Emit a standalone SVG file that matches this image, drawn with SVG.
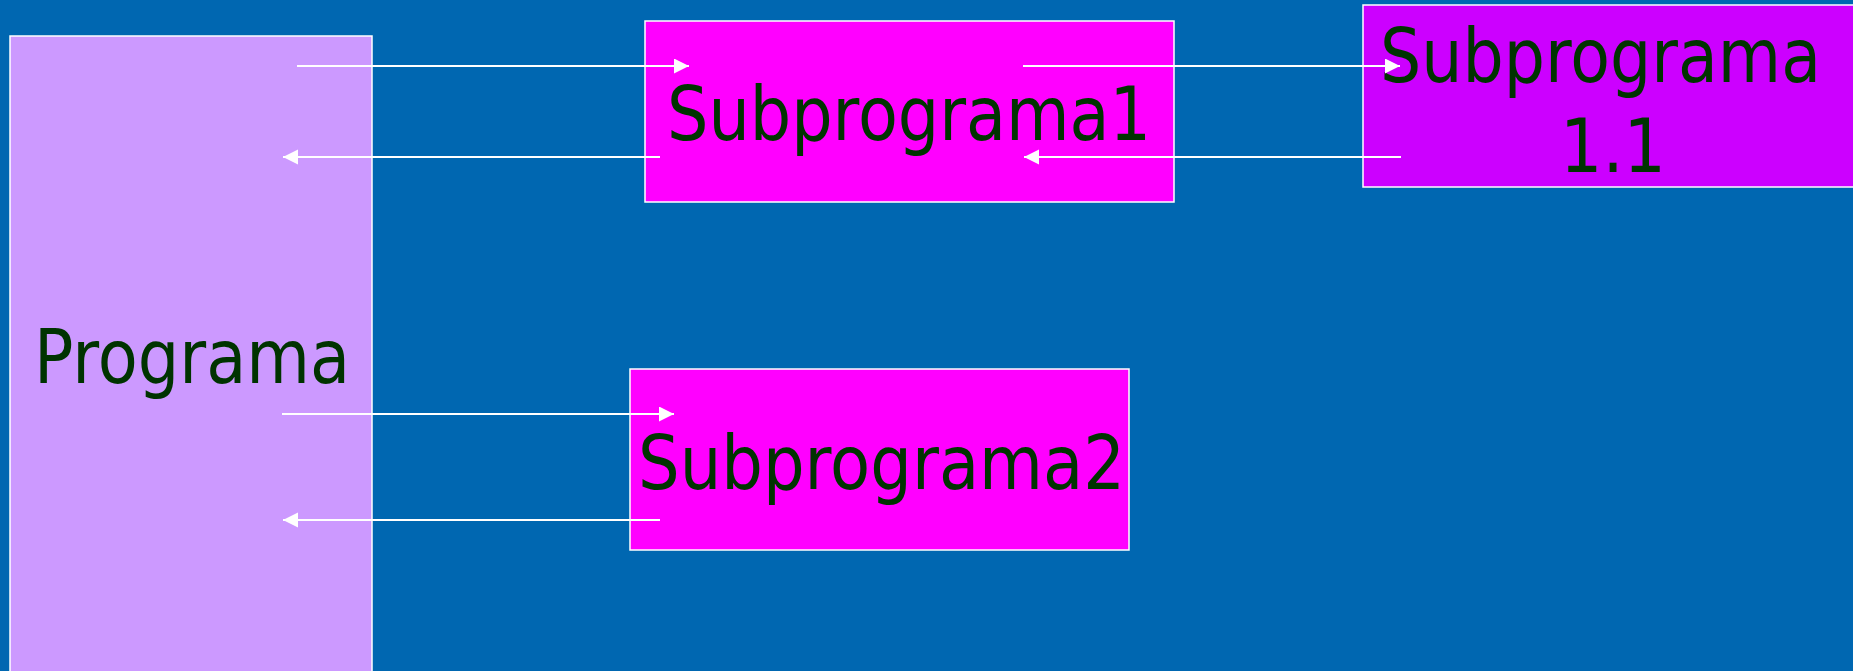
<svg xmlns="http://www.w3.org/2000/svg" width="1853" height="671" viewBox="0 0 1853 671">
  <style>
    .box { stroke: #FFFFFF; stroke-width: 1.5; }
    .lbl { font-family: "DejaVu Sans", Verdana, sans-serif; font-size: 74px; fill: #003300; }
    .conn { stroke: #FFFFFF; stroke-width: 2; fill: none; marker-end: url(#arrow); }
  </style>
  <defs>
    <marker id="arrow" markerUnits="userSpaceOnUse" markerWidth="16" markerHeight="16" refX="15" refY="7.5" orient="auto">
      <path d="M0,0 L15,7.5 L0,15 Z" fill="#FFFFFF"/>
    </marker>
  </defs>
  <rect x="0" y="0" width="1853" height="671" fill="#0067B1"/>
  <g id="programa">
    <rect class="box" x="10" y="36" width="362" height="700" fill="#CC99FF"/>
    <text class="lbl" x="34" y="383" textLength="316" lengthAdjust="spacingAndGlyphs">Programa</text>
  </g>
  <g id="subprograma1">
    <rect class="box" x="645" y="21" width="529" height="181" fill="#FF00FF"/>
    <text class="lbl" x="667" y="140" textLength="484" lengthAdjust="spacingAndGlyphs">Subprograma1</text>
  </g>
  <g id="subprograma11">
    <rect class="box" x="1363" y="5" width="500" height="182" fill="#CC00FF"/>
    <text class="lbl" x="1380" y="82" textLength="441" lengthAdjust="spacingAndGlyphs">Subprograma</text>
    <text class="lbl" x="1560" y="172" textLength="106" lengthAdjust="spacingAndGlyphs">1.1</text>
  </g>
  <g id="subprograma2">
    <rect class="box" x="630" y="369" width="499" height="181" fill="#FF00FF"/>
    <text class="lbl" x="638" y="489" textLength="487" lengthAdjust="spacingAndGlyphs">Subprograma2</text>
  </g>
  <g id="connectors">
    <path class="conn" d="M297,66 L689,66"/>
    <path class="conn" d="M660,157 L283,157"/>
    <path class="conn" d="M1023,66 L1400,66"/>
    <path class="conn" d="M1401,157 L1024,157"/>
    <path class="conn" d="M282,414 L674,414"/>
    <path class="conn" d="M660,520 L283,520"/>
  </g>
</svg>
